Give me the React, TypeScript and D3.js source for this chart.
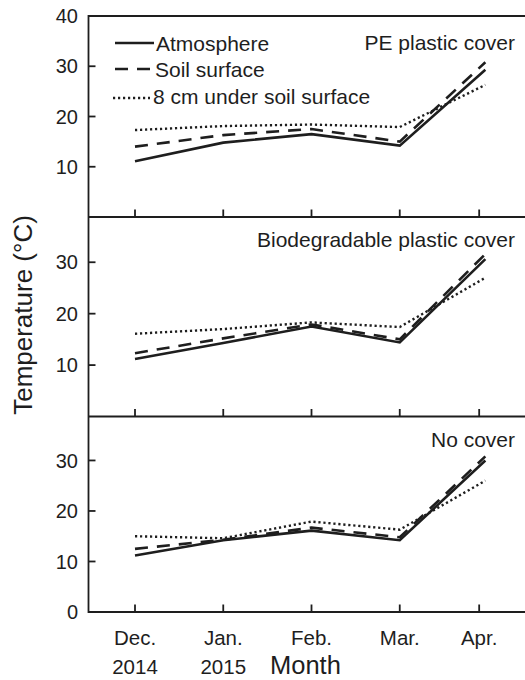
import React from "react";
import * as d3 from "d3";

const months = ["Dec.", "Jan.", "Feb.", "Mar.", "Apr."];
const years = ["2014", "2015", "", "", ""];
const monthTickPos = [0, 1, 2, 3, 3.9];
const monthDataPos = [0, 1, 2, 3, 3.97];

const panelNames = ["PE plastic cover", "Biodegradable plastic cover", "No cover"];
const panelYMax = [40, 38.8, 38.7];
const panelTicks = [[10, 20, 30, 40], [10, 20, 30], [0, 10, 20, 30]];

const seriesNames = ["Atmosphere", "Soil surface", "8 cm under soil surface"];

const peAtmosphere = [11.1, 14.8, 16.5, 14.2, 29.3];
const peSoil = [14.0, 16.3, 17.5, 15.0, 30.8];
const peUnder = [17.3, 18.1, 18.4, 17.9, 26.3];

const bioAtmosphere = [11.2, 14.3, 17.5, 14.4, 30.6];
const bioSoil = [12.3, 15.2, 17.9, 15.0, 31.6];
const bioUnder = [16.1, 17.0, 18.3, 17.4, 27.0];

const noAtmosphere = [11.2, 14.2, 16.1, 14.2, 30.0];
const noSoil = [12.5, 14.3, 16.7, 14.8, 30.8];
const noUnder = [15.0, 14.6, 17.9, 16.3, 26.0];

const panelSeries = [
  [peAtmosphere, peSoil, peUnder],
  [bioAtmosphere, bioSoil, bioUnder],
  [noAtmosphere, noSoil, noUnder],
];

const W = 525;
const H = 680;
const axisX = 88.5;
const panelTops = [16, 217, 416.5];
const panelBottoms = [217, 416.5, 612];
const FONT = "Arial, 'Liberation Sans', Helvetica, sans-serif";
const INK = "#1e1e1e";
const dashes = [null, "13 9", "2.2 2.8"];

export default function App() {
  const x = d3.scaleLinear().domain([0, 4]).range([135, 488]);
  const line = d3.line<[number, number]>().x((d) => d[0]).y((d) => d[1]);

  return (
    <svg
      width={W}
      height={H}
      style={{ position: "absolute", left: 0, top: 0, background: "#fff" }}
      fontFamily={FONT}
    >
      <rect width={W} height={H} fill="#fff" />
      {panelSeries.map((series, pi) => {
        const y = d3
          .scaleLinear()
          .domain([0, panelYMax[pi]])
          .range([panelBottoms[pi], panelTops[pi]]);
        return (
          <g key={pi}>
            {series.map((vals, si) => (
              <path
                key={si}
                d={line(vals.map((v, i) => [x(monthDataPos[i]), y(v)]))!}
                fill="none"
                stroke={INK}
                strokeWidth={si === 2 ? 2.4 : 2.6}
                strokeDasharray={dashes[si] ?? undefined}
                strokeLinejoin="miter"
              />
            ))}
            <line x1={axisX} x2={W} y1={panelBottoms[pi]} y2={panelBottoms[pi]} stroke={INK} strokeWidth={1.8} />
            {monthTickPos.map((t, i) => (
              <line
                key={i}
                x1={x(t)}
                x2={x(t)}
                y1={panelBottoms[pi]}
                y2={panelBottoms[pi] - 7.5}
                stroke={INK}
                strokeWidth={1.8}
              />
            ))}
            {panelTicks[pi].map((t) => (
              <g key={t}>
                <line x1={axisX} x2={axisX + 7} y1={y(t)} y2={y(t)} stroke={INK} strokeWidth={1.8} />
                <text x={78} y={y(t)} dy="0.36em" textAnchor="end" fontSize={20} fill={INK}>
                  {t}
                </text>
              </g>
            ))}
            <text
              x={515}
              y={panelTops[pi] + (pi === 0 ? 34 : 30)}
              textAnchor="end"
              fontSize={21}
              fill={INK}
            >
              {panelNames[pi]}
            </text>
          </g>
        );
      })}
      <line x1={axisX} x2={W} y1={panelTops[0]} y2={panelTops[0]} stroke={INK} strokeWidth={1.8} />
      <line x1={axisX} x2={axisX} y1={panelTops[0] - 0.9} y2={panelBottoms[2] + 0.9} stroke={INK} strokeWidth={1.8} />

      {seriesNames.map((name, si) => {
        const ly = [43, 69, 98][si];
        const ty = [50.5, 76.5, 104][si];
        const lx0 = [115, 115, 113][si];
        const lx1 = [154, 152, 150][si];
        const tx = [156, 155, 153][si];
        return (
          <g key={name}>
            <line
              x1={lx0}
              x2={lx1}
              y1={ly}
              y2={ly}
              stroke={INK}
              strokeWidth={si === 2 ? 2.4 : 2.6}
              strokeDasharray={dashes[si] ?? undefined}
            />
            <text x={tx} y={ty} fontSize={21} fill={INK}>
              {name}
            </text>
          </g>
        );
      })}

      {months.map((m, i) => (
        <g key={m}>
          <text x={x(monthTickPos[i])} y={645} textAnchor="middle" fontSize={20.5} fill={INK}>
            {m}
          </text>
          {years[i] && (
            <text x={x(monthTickPos[i])} y={674} textAnchor="middle" fontSize={20.5} fill={INK}>
              {years[i]}
            </text>
          )}
        </g>
      ))}
      <text x={270} y={674} fontSize={25.5} fill={INK}>
        Month
      </text>
      <text transform={`translate(32,315) rotate(-90)`} textAnchor="middle" fontSize={26} fill={INK}>
        Temperature (°C)
      </text>
    </svg>
  );
}
